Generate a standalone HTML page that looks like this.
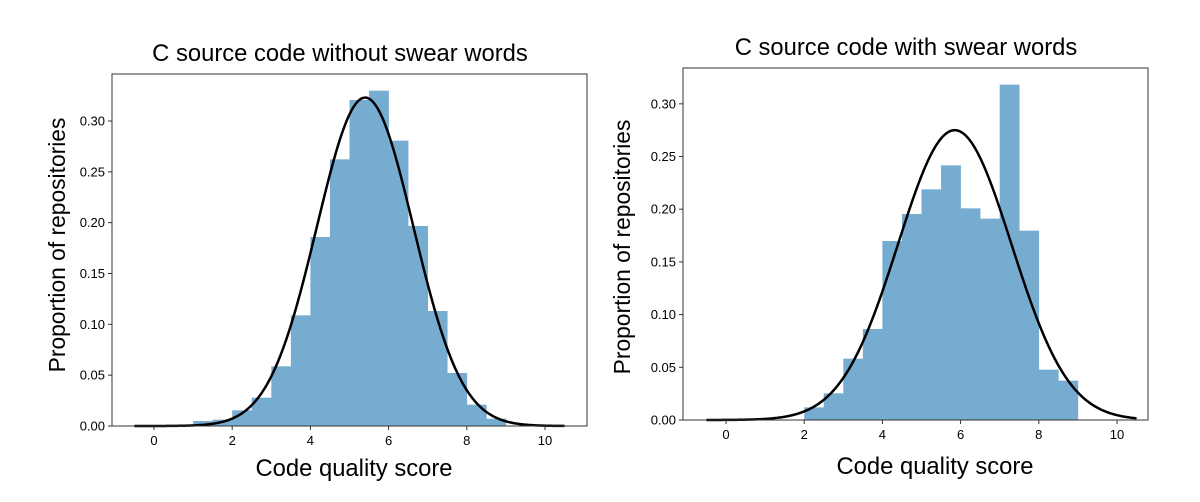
<!DOCTYPE html>
<html><head><meta charset="utf-8"><style>
html,body{margin:0;padding:0;background:#fff;}
svg{display:block;font-family:"Liberation Sans","DejaVu Sans",sans-serif;}
</style></head><body>
<svg id="s" width="1200" height="502" viewBox="0 0 1200 502" xmlns="http://www.w3.org/2000/svg">
<rect width="1200" height="502" fill="#fff"/>
<text x="340" y="61" font-size="23.8" text-anchor="middle">C source code without swear words</text>
<text x="906" y="55" font-size="23.8" text-anchor="middle">C source code with swear words</text>
<text transform="translate(65,245) rotate(-90)" font-size="22.8" text-anchor="middle">Proportion of repositories</text>
<text transform="translate(630,247) rotate(-90)" font-size="22.8" text-anchor="middle">Proportion of repositories</text>
<text x="354" y="476" font-size="23.8" text-anchor="middle">Code quality score</text>
<text x="935" y="474" font-size="23.8" text-anchor="middle">Code quality score</text>
<g id="L"></g><g id="R"></g>
</svg>
<script>
const NS="http://www.w3.org/2000/svg";
function el(g,t,a,txt){const e=document.createElementNS(NS,t);for(const k in a)e.setAttribute(k,a[k]);if(txt!==undefined)e.textContent=txt;g.appendChild(e);return e;}
function plot(gid,c){
 const g=document.getElementById(gid);
 const X=v=>c.x0+v*c.ux, Y=v=>c.bot-v*c.uy;
 c.bars.forEach((z,i)=>{const top=60+z/3;const x=X(c.b0+i*0.5);el(g,"rect",{x:x,y:top,width:0.5*c.ux+0.3,height:c.bot-top,fill:"#77acd1"});});
 let d="";for(let i=0;i<=400;i++){const v=-0.5+11*i/400;const y=c.pk*Math.exp(-((v-c.mu)**2)/(2*c.sd*c.sd));d+=(i?"L":"M")+X(v).toFixed(2)+","+Y(y).toFixed(2);}
 el(g,"path",{d:d,fill:"none",stroke:"#000","stroke-width":2.5});
 el(g,"rect",{x:c.l,y:c.t,width:c.r-c.l,height:c.bot-c.t,fill:"none",stroke:"#333","stroke-width":1});
 for(let v=0;v<=10;v+=2){el(g,"line",{x1:X(v),x2:X(v),y1:c.bot,y2:c.bot+4,stroke:"#333"});el(g,"text",{x:X(v),y:c.bot+19,"font-size":13,"text-anchor":"middle"},String(v));}
 for(let k=0;k<=6;k++){const v=k*0.05;el(g,"line",{x1:c.l-4,x2:c.l,y1:Y(v),y2:Y(v),stroke:"#333"});el(g,"text",{x:c.l-7,y:Y(v)+4.5,"font-size":13,"text-anchor":"end"},v.toFixed(2));}
}
plot("L",{x0:154,ux:39.1,bot:426,uy:1016.7,l:112,t:74,r:587,b0:1,mu:5.4,pk:0.323,sd:1.235,
 bars:[1083,1079,1051,1013,919,766,531,298,120,92,242,498,753,939,1034,1076]});
plot("R",{x0:726,ux:39.1,bot:420,uy:1053.9,l:683,t:68,r:1148,b0:2,mu:5.85,pk:0.275,sd:1.451,
 bars:[1042,1000,896,807,543,462,388,316,445,476,74,512,929,962]});
</script>
</body></html>
